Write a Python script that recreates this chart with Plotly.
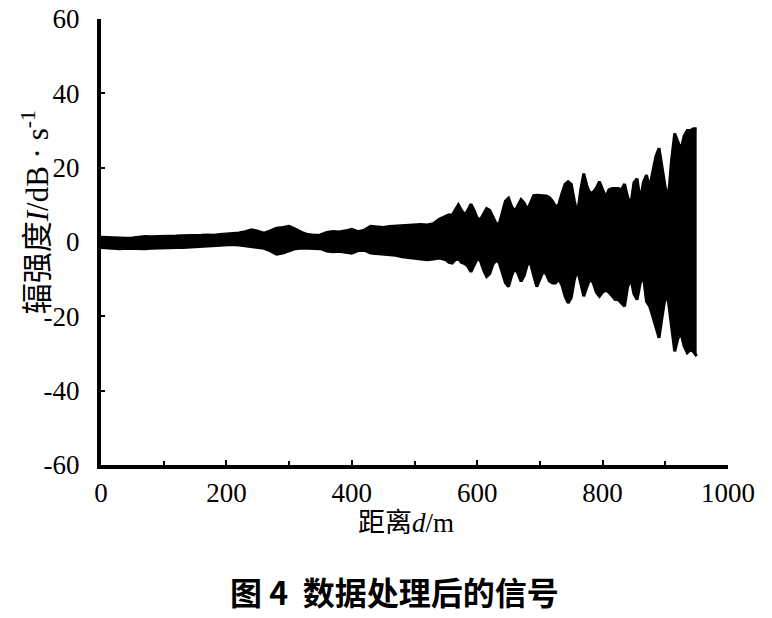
import plotly.graph_objects as go

# distance samples (m): 10 m steps up to 540, then 5 m steps to 950
distance = list(range(0, 550, 10)) + list(range(550, 955, 5))

# upper envelope of the processed signal (dB/s)
upper = [1.3, 1.2, 1.0, 0.9, 1.0, 1.1, 1.3, 1.5, 1.4, 1.4,
         1.5, 1.6, 1.6, 1.7, 1.7, 1.6, 1.8, 1.9, 1.8, 2.0,
         2.1, 2.3, 2.4, 2.8, 3.3, 2.9, 2.4, 3.0, 3.7, 3.9,
         4.2, 3.5, 2.6, 2.0, 1.8, 1.9, 2.6, 2.8, 2.7, 3.0,
         3.4, 2.8, 3.2, 4.2, 4.0, 3.9, 4.2, 4.3, 4.4, 4.6,
         4.6, 4.7, 4.6, 4.9, 6.2,
         6.8, 7.3, 7.2, 8.5, 10.0, 8.5, 7.3, 8.5, 10.2, 8.5,
         6.4, 6.0, 7.5, 9.0, 8.5, 6.5, 5.0, 4.8, 8.0, 11.0,
         11.8, 9.5, 8.2, 10.0, 11.4, 10.5, 8.7, 10.5, 12.5, 12.6,
         12.6, 12.6, 12.4, 12.0, 11.0, 9.5, 10.0, 13.0, 15.5, 16.2,
         15.5, 11.0, 7.4, 14.0, 18.4, 15.0, 13.0, 13.4, 14.5, 16.2,
         14.0, 12.0, 14.0, 14.4, 14.4, 14.4, 14.0, 15.6, 12.0, 10.0,
         16.0, 17.0, 11.0, 16.0, 18.0, 14.6, 18.9, 23.0, 25.2, 20.0,
         14.6, 12.0, 22.0, 29.2, 27.0, 24.8, 28.5, 30.0, 30.0, 30.5,
         30.5]

# lower envelope of the processed signal (dB/s)
lower = [-1.5, -1.6, -1.8, -1.8, -1.7, -1.8, -1.8, -1.8, -1.7, -1.6,
         -1.6, -1.5, -1.5, -1.5, -1.4, -1.3, -1.2, -1.1, -1.0, -0.9,
         -0.8, -0.7, -0.8, -1.0, -1.1, -1.4, -1.7, -2.4, -3.3, -3.0,
         -2.5, -1.8, -1.6, -1.6, -1.6, -1.8, -2.4, -2.6, -2.5, -2.7,
         -3.0, -2.3, -2.2, -3.0, -3.1, -3.2, -3.4, -3.6, -4.0, -4.3,
         -4.4, -4.6, -4.8, -4.6, -4.3,
         -4.8, -5.5, -5.7, -4.8, -4.5, -5.5, -5.8, -6.5, -8.0, -6.0,
         -4.5, -5.0, -7.5, -9.3, -8.5, -6.0, -5.0, -5.5, -8.5, -11.0,
         -12.0, -9.0, -7.0, -8.5, -10.6, -9.0, -6.0, -5.7, -9.0, -12.0,
         -10.0, -8.0, -8.5, -10.5, -11.0, -11.0, -10.0, -11.5, -14.5, -16.4,
         -15.0, -10.0, -7.5, -11.0, -14.6, -12.0, -9.8, -11.0, -13.5, -14.6,
         -13.5, -12.9, -13.5, -14.5, -15.5, -15.5, -16.5, -17.3, -12.0, -9.8,
         -14.0, -15.5, -11.0, -9.0, -16.0, -17.3, -20.0, -23.0, -25.8, -20.0,
         -14.6, -16.0, -22.0, -29.4, -26.0, -24.5, -28.0, -29.8, -29.0, -29.5,
         -30.7]

y_ticks = [-60, -40, -20, 0, 20, 40, 60]
y_labels = ['-60', '-40', '-20', '0', '20', '40', '60']
x_ticks = [0, 200, 400, 600, 800, 1000]
x_labels = ['0', '200', '400', '600', '800', '1000']

num_font = 'Liberation Serif, Noto Sans CJK SC'

fig = go.Figure()
fig.add_trace(go.Scatter(x=distance, y=lower, mode='lines',
                         line=dict(color='black', width=3), showlegend=False))
fig.add_trace(go.Scatter(x=distance, y=upper, mode='lines', fill='tonexty',
                         fillcolor='black', line=dict(color='black', width=3),
                         showlegend=False))

fig.update_layout(
    width=772, height=618,
    margin=dict(l=93, r=52, t=11, b=161, autoexpand=False),
    plot_bgcolor='white', paper_bgcolor='white',
    font=dict(family=num_font, size=27, color='black'),
    xaxis=dict(range=[0, 1000], showgrid=False, zeroline=False, automargin=False,
               showline=True, linecolor='black', linewidth=4,
               tickvals=x_ticks, ticktext=x_labels,
               ticks='inside', ticklen=5, tickwidth=2, tickcolor='black',
               minor=dict(dtick=100, ticks='inside', ticklen=4, tickwidth=2, tickcolor='black'),
               ticklabelstandoff=1, ticklabeloverflow='allow'),
    yaxis=dict(range=[-60, 60], showgrid=False, zeroline=False, automargin=False,
               showline=True, linecolor='black', linewidth=4,
               tickvals=y_ticks, ticktext=y_labels,
               ticks='inside', ticklen=4, tickwidth=2, tickcolor='black',
               ticklabelstandoff=12, ticklabeloverflow='allow'),
)

fig.add_annotation(text='辐强度<i>I</i>/dB · s<sup>-1</sup>', textangle=-90,
                   xref='paper', yref='paper', x=-0.105, y=0.567,
                   xanchor='center', yanchor='middle', showarrow=False,
                   font=dict(family=num_font, size=31))
fig.add_annotation(text='距离<i>d</i>/m',
                   xref='paper', yref='paper', x=0.487, y=-0.131,
                   xanchor='center', yanchor='middle', showarrow=False,
                   font=dict(family=num_font, size=27))
fig.add_annotation(text='图 4  数据处理后的信号',
                   xref='paper', yref='paper', x=0.468, y=-0.282,
                   xanchor='center', yanchor='middle', showarrow=False,
                   font=dict(family='Noto Sans CJK SC', size=32, weight='bold'))

fig.write_html("out.html")
